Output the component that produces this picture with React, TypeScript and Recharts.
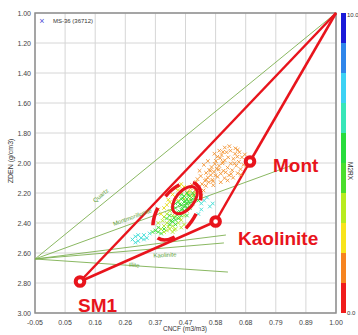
import React from 'react';
import {
  ScatterChart,
  Scatter,
  XAxis,
  YAxis,
  CartesianGrid,
  ReferenceLine,
  ReferenceDot,
  ReferenceArea,
} from 'recharts';

const FONT = '"Liberation Sans", Arial, sans-serif';
const RED = '#e8141c';
const GREEN_LINE = '#7db050';
const GREEN_TEXT = '#5d9e35';

// axes
const xTicks = [-0.05, 0.055, 0.16, 0.265, 0.37, 0.475, 0.58, 0.685, 0.79, 0.895, 1.0];
const xTickLabels = ['-0.05', '0.05', '0.16', '0.26', '0.37', '0.47', '0.58', '0.68', '0.79', '0.89', '1.00'];
const yTicks = [1.0, 1.2, 1.4, 1.6, 1.8, 2.0, 2.2, 2.4, 2.6, 2.8, 3.0];
const yTickLabels = ['1.00', '1.20', '1.40', '1.60', '1.80', '2.00', '2.20', '2.40', '2.60', '2.80', '3.00'];

// mineral end points (red polygon)
const apex = { x: 1.0, y: 1.0 };
const sm1 = { x: 0.107, y: 2.79 };
const mont = { x: 0.70, y: 1.99 };
const kaol = { x: 0.58, y: 2.39 };

// green mineral lines from common origin
const greenOrigin = { x: -0.05, y: 2.64 };
const greenEnds = [
  { x: 1.0, y: 1.0 },
  { x: 0.85, y: 2.013 },
  { x: 0.616, y: 2.48 },
  { x: 0.609, y: 2.533 },
  { x: 0.623, y: 2.727 },
];

// highlighted ellipses (centres)
const innerEllipse = { x: 0.473, y: 2.247 };
const outerEllipse = { x: 0.445, y: 2.32 };

// scatter points MS-36, grouped by M2RX colour class
const orangePts = [
  [0.482, 2.193], [0.493, 2.168], [0.503, 2.204], [0.498, 2.147], [0.512, 2.128], [0.508, 2.181], [0.521, 2.162], [0.517, 2.108],
  [0.533, 2.141], [0.528, 2.087], [0.538, 2.183], [0.543, 2.118], [0.547, 2.066], [0.546, 2.152], [0.553, 2.097], [0.558, 2.047],
  [0.556, 2.128], [0.563, 2.081], [0.566, 2.027], [0.569, 2.112], [0.574, 2.058], [0.577, 2.006], [0.572, 2.148], [0.584, 2.038],
  [0.581, 1.986], [0.587, 2.092], [0.592, 2.018], [0.596, 1.968], [0.598, 2.071], [0.604, 2.002], [0.601, 1.947], [0.607, 2.052],
  [0.612, 1.982], [0.611, 2.101], [0.618, 1.928], [0.622, 2.031], [0.624, 1.962], [0.627, 2.082], [0.633, 2.004], [0.632, 1.918],
  [0.638, 2.048], [0.642, 1.972], [0.641, 2.098], [0.648, 1.938], [0.652, 2.018], [0.649, 1.902], [0.657, 2.068], [0.661, 1.992],
  [0.663, 1.928], [0.667, 2.041], [0.672, 1.962], [0.668, 2.078], [0.677, 2.012], [0.682, 1.943], [0.687, 1.982], [0.689, 2.018],
  [0.576, 1.938], [0.593, 1.918], [0.612, 1.897], [0.628, 1.888], [0.553, 1.987], [0.539, 2.012], [0.524, 2.052], [0.571, 2.122],
  [0.598, 2.128], [0.622, 2.116], [0.656, 1.958], [0.586, 1.958], [0.606, 1.992], [0.646, 2.002], [0.591, 2.043], [0.615, 2.062],
  [0.634, 2.072], [0.562, 2.052], [0.579, 2.083], [0.547, 2.112], [0.657, 1.912], [0.606, 1.926],
];
const yellowPts = [
  [0.43, 2.21], [0.45, 2.18], [0.46, 2.20], [0.47, 2.16], [0.48, 2.21], [0.49, 2.19], [0.44, 2.23], [0.50, 2.22],
  [0.46, 2.14], [0.42, 2.26], [0.51, 2.20], [0.47, 2.24], [0.40, 2.30], [0.38, 2.31], [0.39, 2.34], [0.41, 2.28],
  [0.52, 2.19], [0.44, 2.17], [0.53, 2.22], [0.49, 2.24], [0.45, 2.25], [0.43, 2.28], [0.415, 2.245], [0.455, 2.155],
];
const limePts = [
  [0.40, 2.36], [0.41, 2.40], [0.42, 2.38], [0.43, 2.42], [0.41, 2.45], [0.44, 2.36], [0.42, 2.44], [0.45, 2.40],
  [0.43, 2.46], [0.46, 2.38], [0.40, 2.42], [0.44, 2.44], [0.47, 2.35], [0.45, 2.34], [0.39, 2.44], [0.48, 2.32],
  [0.42, 2.32], [0.46, 2.43], [0.38, 2.40], [0.43, 2.35], [0.41, 2.34], [0.47, 2.41], [0.49, 2.29], [0.40, 2.46],
  [0.415, 2.425], [0.435, 2.445], [0.455, 2.365], [0.395, 2.385],
];
const greenPts = [
  [0.46, 2.24], [0.47, 2.22], [0.48, 2.24], [0.47, 2.26], [0.49, 2.22], [0.48, 2.27], [0.46, 2.28], [0.50, 2.24],
  [0.45, 2.26], [0.49, 2.27], [0.47, 2.29], [0.48, 2.20], [0.50, 2.20], [0.46, 2.31], [0.44, 2.30], [0.45, 2.33],
  [0.47, 2.32], [0.51, 2.23], [0.49, 2.30], [0.44, 2.27], [0.43, 2.31], [0.42, 2.35], [0.44, 2.38], [0.45, 2.37],
  [0.43, 2.39], [0.46, 2.35], [0.48, 2.35], [0.42, 2.41], [0.44, 2.41], [0.41, 2.37], [0.50, 2.27], [0.52, 2.25],
  [0.46, 2.21], [0.48, 2.30], [0.37, 2.45], [0.38, 2.43], [0.39, 2.47], [0.36, 2.46], [0.40, 2.44], [0.38, 2.46],
  [0.465, 2.235], [0.475, 2.255], [0.485, 2.215], [0.455, 2.275], [0.495, 2.245], [0.475, 2.285], [0.465, 2.305],
  [0.455, 2.325], [0.445, 2.345], [0.435, 2.365], [0.425, 2.385], [0.485, 2.255], [0.505, 2.215],
];
const cyanPts = [
  [0.29, 2.51], [0.30, 2.49], [0.31, 2.52], [0.32, 2.50], [0.33, 2.48], [0.34, 2.50], [0.31, 2.48], [0.35, 2.47],
  [0.30, 2.53], [0.33, 2.51], [0.53, 2.27], [0.54, 2.25], [0.53, 2.31], [0.55, 2.23], [0.52, 2.34], [0.57, 2.27],
  [0.56, 2.29],
];

const series = [
  { name: 'orange', pts: orangePts, color: '#f39433' },
  { name: 'yellow', pts: yellowPts, color: '#e6dc1e' },
  { name: 'lime', pts: limePts, color: '#b2e628' },
  { name: 'green', pts: greenPts, color: '#34dc34' },
  { name: 'cyan', pts: cyanPts, color: '#3ddcd6' },
];

// colour bar (top -> bottom)
const barColors = ['#1a1ad8', '#2f86ea', '#3cd2f4', '#38e6b8', '#28dc3c', '#4ade2c', '#b8ec20', '#f8e41c', '#f68420', '#f01c1c'];

const toData = (pts: number[][]) => pts.map(([x, y]) => ({ x, y }));

const makeCross = (color: string) => (props: any) => {
  const { cx, cy } = props;
  if (cx == null || cy == null) return <g />;
  const s = 1.8;
  return (
    <path
      d={`M${cx - s},${cy - s}L${cx + s},${cy + s}M${cx + s},${cy - s}L${cx - s},${cy + s}`}
      stroke={color}
      strokeWidth={0.9}
      fill="none"
    />
  );
};

const XTick = (props: any) => {
  const { x, y, index } = props;
  return (
    <text x={x} y={y + 12} textAnchor="middle" fontSize={7} fill="#444" fontFamily={FONT}>
      {xTickLabels[index]}
    </text>
  );
};

const YTick = (props: any) => {
  const { x, y, index } = props;
  return (
    <text x={x - 4} y={y + 2.5} textAnchor="end" fontSize={7} fill="#444" fontFamily={FONT}>
      {yTickLabels[index]}
    </text>
  );
};

const ellipseShape = (rx: number, ry: number, angle: number, dash?: string, sw = 3) => (p: any) => (
  <ellipse
    cx={p.cx}
    cy={p.cy}
    rx={rx}
    ry={ry}
    transform={`rotate(${angle} ${p.cx} ${p.cy})`}
    fill="none"
    stroke={RED}
    strokeWidth={sw}
    strokeDasharray={dash}
  />
);

const redSegments = [
  [apex, sm1],
  [apex, mont],
  [mont, kaol],
  [kaol, sm1],
];

export default function App() {
  return (
    <div style={{ position: 'absolute', left: 0, top: 0, width: 358, height: 335, background: '#fff' }}>
      <ScatterChart width={358} height={335} margin={{ top: 13, right: 22, bottom: 0, left: 0 }}>
        <CartesianGrid stroke="#d6d6d6" strokeWidth={1} />
        <XAxis
          type="number"
          dataKey="x"
          domain={[-0.05, 1.0]}
          ticks={xTicks}
          height={22}
          tickSize={0}
          tickMargin={0}
          tickLine={false}
          axisLine={false}
          tick={<XTick />}
          allowDataOverflow
          interval={0}
        />
        <YAxis
          type="number"
          dataKey="y"
          domain={[1, 3]}
          reversed
          ticks={yTicks}
          width={35}
          tickSize={0}
          tickMargin={0}
          tickLine={false}
          axisLine={false}
          tick={<YTick />}
          allowDataOverflow
          interval={0}
        />
        <ReferenceArea x1={-0.05} x2={1.0} y1={1} y2={3} fill="none" stroke="#8e8e8e" strokeWidth={1.5} ifOverflow="visible" />
        {greenEnds.map((e, i) => (
          <ReferenceLine
            key={'g' + i}
            segment={[greenOrigin, e]}
            stroke={GREEN_LINE}
            strokeWidth={0.9}
            ifOverflow="visible"
          />
        ))}
        {series.map((s) => (
          <Scatter
            key={s.name}
            name={s.name}
            data={toData(s.pts)}
            shape={makeCross(s.color)}
            isAnimationActive={false}
          />
        ))}
        {redSegments.map((seg, i) => (
          <ReferenceLine
            key={'r' + i}
            segment={[seg[0], seg[1]]}
            stroke={RED}
            strokeWidth={2.5}
            ifOverflow="visible"
          />
        ))}
        <ReferenceDot x={outerEllipse.x} y={outerEllipse.y} ifOverflow="visible" shape={ellipseShape(33, 18, -55, '18 14', 3.5)} />
        <ReferenceDot x={innerEllipse.x} y={innerEllipse.y} ifOverflow="visible" shape={ellipseShape(16, 9, -50, undefined, 3)} />
        {[sm1, mont, kaol].map((p, i) => (
          <ReferenceDot key={'m' + i} x={p.x} y={p.y} r={4.3} fill="#fff" stroke={RED} strokeWidth={4} ifOverflow="visible" />
        ))}
      </ScatterChart>
      <svg
        width={358}
        height={335}
        style={{ position: 'absolute', left: 0, top: 0, pointerEvents: 'none' }}
        fontFamily={FONT}
      >
        {/* legend */}
        <text x={42} y={23.5} fontSize={9} fill="#5050d8" textAnchor="middle">×</text>
        <text x={53} y={22.5} fontSize={6} fill="#333">MS-36 (36712)</text>
        {/* axis titles */}
        <text x={185} y={331} fontSize={6.5} fill="#333" textAnchor="middle">CNCF (m3/m3)</text>
        <text x={0} y={0} fontSize={7} fill="#333" textAnchor="middle" transform="translate(13 161) rotate(-90)">
          ZDEN (g/cm3)
        </text>
        {/* colour bar */}
        {barColors.map((c, i) => (
          <rect key={i} x={341} y={13 + i * 30} width={5} height={30} fill={c} />
        ))}
        <text x={347} y={17} fontSize={6} fill="#333">10.0</text>
        <text x={347} y={315} fontSize={6} fill="#333">0.0</text>
        <text x={0} y={0} fontSize={6.5} fill="#333" textAnchor="middle" transform="translate(348 171) rotate(90)">
          M2RX
        </text>
        {/* green mineral labels */}
        <text x={0} y={0} fontSize={6} fill={GREEN_TEXT} textAnchor="middle" transform="translate(102 197) rotate(-39)">Quartz</text>
        <text x={0} y={0} fontSize={6} fill={GREEN_TEXT} textAnchor="middle" transform="translate(133 219) rotate(-20)">Montmorillonite</text>
        <text x={0} y={0} fontSize={6} fill={GREEN_TEXT} textAnchor="middle" transform="translate(134 267) rotate(4)">Illite</text>
        <text x={0} y={0} fontSize={6} fill={GREEN_TEXT} textAnchor="middle" transform="translate(165 257) rotate(-3)">Kaolinite</text>
        {/* red annotations */}
        <text x={273} y={172} fontSize={19} fontWeight="bold" fill={RED}>Mont</text>
        <text x={238} y={245} fontSize={19} fontWeight="bold" fill={RED}>Kaolinite</text>
        <text x={78} y={312} fontSize={19} fontWeight="bold" fill={RED}>SM1</text>
      </svg>
    </div>
  );
}
